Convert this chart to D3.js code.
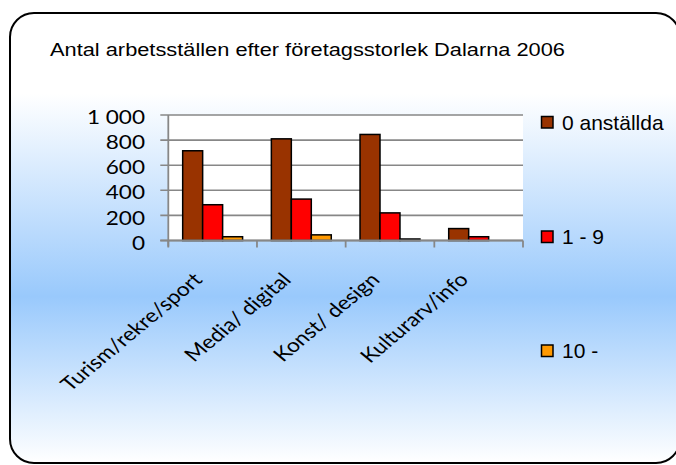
<!DOCTYPE html>
<html>
<head>
<meta charset="utf-8">
<script src="https://cdn.jsdelivr.net/npm/d3@7"></script>
<style>
  body { margin: 0; background: #fff; }
  svg { display: block; }
</style>
</head>
<body>
<div id="chart"></div>
<script>
// Data
const categories = ["Turism/rekre/sport", "Media/ digital", "Konst/ design", "Kulturarv/info"];
const seriesNames = ["0 anställda", "1 - 9", "10 -"];
const anst0 = [715, 810, 845, 95];
const anst1to9 = [285, 330, 220, 30];
const anst10plus = [30, 45, 12, 0];
const yTicks = [0, 200, 400, 600, 800, 1000];
const yTickLabels = ["0", "200", "400", "600", "800", "1 000"];
const seriesColors = ["#993300", "#FF0000", "#FF9900"];

const titleText = "Antal arbetsställen efter företagsstorlek Dalarna 2006";

const width = 676, height = 465;
const plot = {left: 168.3, right: 523, top: 115, bottom: 240.5};

const svg = d3.select("#chart")
    .append("svg")
    .attr("width", width)
    .attr("height", height);

// Background gradient for the chart frame
const grad = svg.append("defs").append("linearGradient")
    .attr("id", "bg")
    .attr("x1", 0).attr("y1", 0).attr("x2", 0).attr("y2", 1);
grad.append("stop").attr("offset", "0").attr("stop-color", "#ffffff");
grad.append("stop").attr("offset", "0.18").attr("stop-color", "#ffffff");
grad.append("stop").attr("offset", "0.63").attr("stop-color", "#99c9fc");
grad.append("stop").attr("offset", "1").attr("stop-color", "#ffffff");

svg.append("rect")
    .attr("x", 10).attr("y", 13)
    .attr("width", 670).attr("height", 450)
    .attr("rx", 24).attr("ry", 24)
    .attr("fill", "url(#bg)")
    .attr("stroke", "#000")
    .attr("stroke-width", 2);

// Title (stretched like the original)
svg.append("text")
    .attr("x", 50).attr("y", 55.5)
    .attr("font-family", "Liberation Sans, Arial, sans-serif")
    .attr("font-size", 17.5)
    .attr("textLength", 515)
    .attr("lengthAdjust", "spacingAndGlyphs")
    .attr("fill", "#000")
    .text(titleText);

// Scales
const x0 = d3.scaleBand()
    .domain(categories)
    .range([plot.left, plot.right])
    .paddingInner(0).paddingOuter(0);

const x1 = d3.scaleBand()
    .domain(seriesNames)
    .range([0, x0.bandwidth()])
    .paddingInner(0).paddingOuter(0.72);

const y = d3.scaleLinear()
    .domain([0, 1000])
    .range([plot.bottom, plot.top]);

// Plot area
svg.append("rect")
    .attr("x", plot.left).attr("y", plot.top)
    .attr("width", plot.right - plot.left)
    .attr("height", plot.bottom - plot.top)
    .attr("fill", "#fff");

// Gridlines (with the tick stub to the left)
svg.append("g")
    .selectAll("line")
    .data(yTicks)
    .join("line")
    .attr("x1", plot.left - 8)
    .attr("x2", plot.right)
    .attr("y1", d => y(d))
    .attr("y2", d => y(d))
    .attr("stroke", "#878787")
    .attr("stroke-width", 1.6);

// Y tick labels
svg.append("g")
    .selectAll("text")
    .data(yTicks)
    .join("text")
    .attr("transform", d => `translate(145,${y(d) + 2}) scale(1.22,1)`)
    .attr("text-anchor", "end")
    .attr("dominant-baseline", "central")
    .attr("font-family", "Lato, sans-serif")
    .attr("font-size", 18.5)
    .attr("fill", "#000")
    .text((d, i) => yTickLabels[i]);

// Bars
const rows = categories.map((c, i) => ({
    cat: c,
    vals: [anst0[i], anst1to9[i], anst10plus[i]]
}));

svg.append("g")
    .selectAll("g")
    .data(rows)
    .join("g")
    .attr("transform", d => `translate(${x0(d.cat)},0)`)
    .selectAll("rect")
    .data(d => d.vals.map((v, j) => ({name: seriesNames[j], v: v, j: j})).filter(d => d.v > 0))
    .join("rect")
    .attr("x", d => x1(d.name))
    .attr("width", x1.bandwidth())
    .attr("y", d => y(d.v))
    .attr("height", d => y(0) - y(d.v))
    .attr("fill", d => seriesColors[d.j])
    .attr("stroke", "#000")
    .attr("stroke-width", 1.5);

// Axes lines
svg.append("line")
    .attr("x1", plot.left).attr("x2", plot.left)
    .attr("y1", plot.top).attr("y2", plot.bottom + 6)
    .attr("stroke", "#878787").attr("stroke-width", 1.8);

svg.append("line")
    .attr("x1", plot.left - 8).attr("x2", plot.right)
    .attr("y1", plot.bottom).attr("y2", plot.bottom)
    .attr("stroke", "#878787").attr("stroke-width", 1.8);

// X ticks at category boundaries
const boundaries = categories.map(c => x0(c)).concat([plot.right]);
svg.append("g")
    .selectAll("line")
    .data(boundaries)
    .join("line")
    .attr("x1", d => d).attr("x2", d => d)
    .attr("y1", plot.bottom).attr("y2", plot.bottom + 7)
    .attr("stroke", "#878787").attr("stroke-width", 1.8);

// X labels, rotated and stretched
svg.append("g")
    .selectAll("text")
    .data(categories)
    .join("text")
    .attr("transform", d => `translate(${x0(d) + x0.bandwidth() / 2 - 9},281) scale(1.2,1) rotate(-45)`)
    .attr("text-anchor", "end")
    .attr("font-family", "Lato, sans-serif")
    .attr("font-size", 19)
    .attr("fill", "#000")
    .text(d => d);

// Legend
const legendY = [122, 236.5, 350.5];
const legend = svg.append("g")
    .selectAll("g")
    .data(seriesNames)
    .join("g")
    .attr("transform", (d, i) => `translate(541.5,${legendY[i]})`);

legend.append("rect")
    .attr("x", 0).attr("y", -5.5)
    .attr("width", 11.5).attr("height", 11.5)
    .attr("fill", (d, i) => seriesColors[i])
    .attr("stroke", "#000")
    .attr("stroke-width", 1.5);

legend.append("text")
    .attr("x", 20.5).attr("y", 7.5)
    .attr("font-family", "Liberation Sans, Arial, sans-serif")
    .attr("font-size", 21)
    .attr("fill", "#000")
    .text(d => d);
</script>
</body>
</html>
